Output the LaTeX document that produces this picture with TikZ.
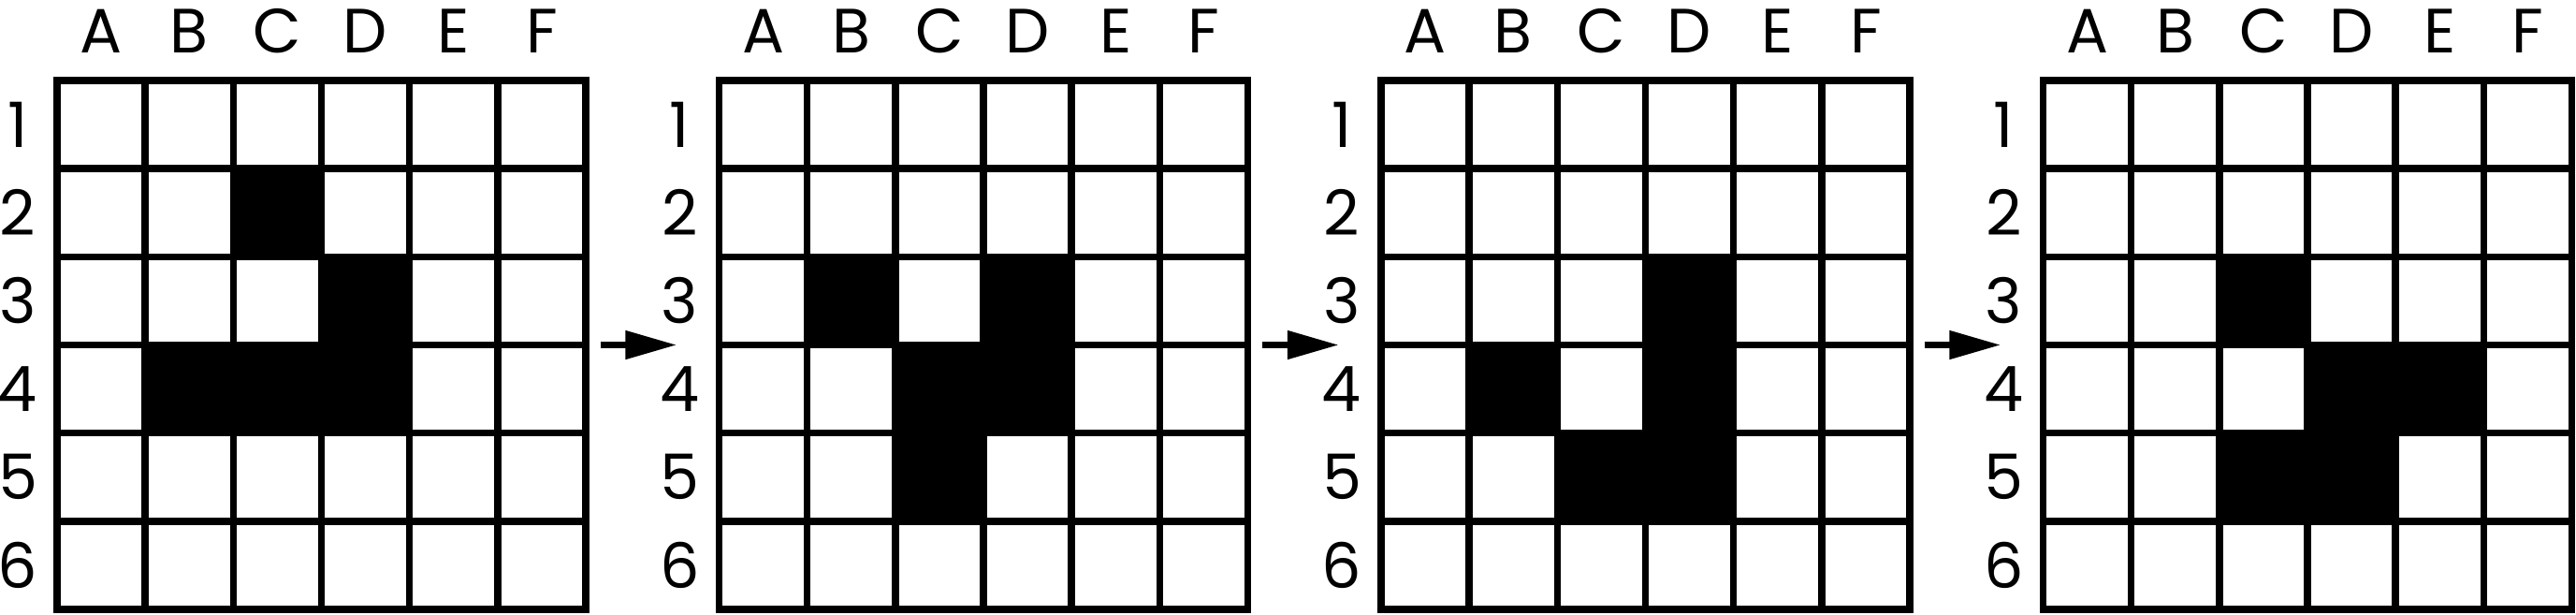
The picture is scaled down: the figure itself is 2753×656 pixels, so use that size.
\documentclass[tikz,border=0pt]{standalone}
\usepackage{fontspec}
\setmainfont{Poppins}
\usetikzlibrary{arrows.meta}
\begin{document}
\begin{tikzpicture}[x=0.01cm,y=-0.01cm,
  gridline/.style={line width=2.15pt, line cap=rect},
  lab/.style={font=\fontsize{19}{19}\selectfont, inner sep=0pt, anchor=center},
  flow/.style={line width=2.15pt, -{Triangle[length=0.55cm,width=0.29cm]}}]
\useasboundingbox (0,0) rectangle (2753,656);
\def\cs{94.1667}
\foreach \g/\L/\cells in {1/61/{3/2,4/3,2/4,3/4,4/4},
                         2/768.5/{2/3,4/3,3/4,4/4,3/5},
                         3/1476/{4/3,2/4,4/4,3/5,4/5},
                         4/2183.5/{3/3,4/4,5/4,3/5,4/5}} {
  % black cells
  \foreach \c/\r in \cells {
    \fill (\L+\c*\cs-\cs, 86+\r*\cs-\cs) rectangle ++(\cs,\cs);
  }
  % grid lines
  \foreach \i in {1,...,5} {
    \draw[gridline] (\L+\i*\cs, 86) -- (\L+\i*\cs, 651);
    \draw[gridline] (\L, 86+\i*\cs) -- (\L+565, 86+\i*\cs);
  }
  \draw[gridline, line join=miter] (\L,86) rectangle (\L+565,651);
  % column labels
  \foreach \i/\t in {1/A,2/B,3/C,4/D,5/E,6/F} {
    \node[lab] (col\g\t) at (\L+\i*\cs-0.5*\cs, 33.5) {\t};
  }
  % row labels
  \foreach \i in {1,...,6} {
    \node[lab] (row\g\i) at (\L-42, 86+\i*\cs-0.5*\cs) {\i};
  }
}
% arrows between grids
\foreach \g/\L in {2/768.5,3/1476,4/2183.5} {
  \coordinate (s\g) at (\L-127,368.5);
  \coordinate (t\g) at (\L-45,368.5);
  \draw[flow] (s\g) -- (t\g);
}
\end{tikzpicture}
\end{document}
